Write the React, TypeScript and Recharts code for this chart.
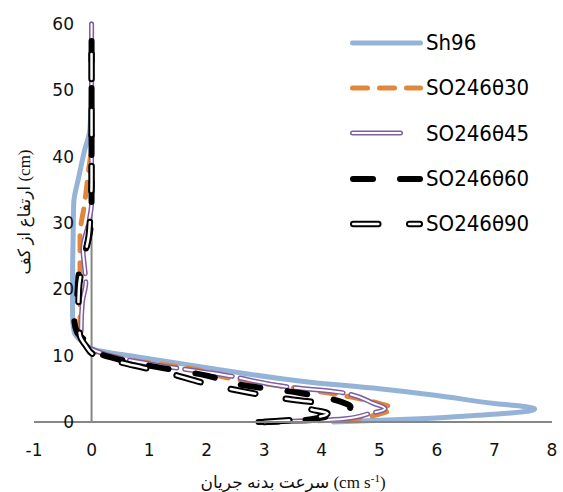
import React from 'react'
import { LineChart, Line, XAxis, YAxis, ReferenceLine, Legend } from 'recharts'

type Pt = { v: number; z: number }
const toPts = (rows: number[][]): Pt[] => rows.map(([v, z]) => ({ v, z }))

const xTicks = [-1, 0, 1, 2, 3, 4, 5, 6, 7, 8]
const yTicks = [0, 10, 20, 30, 40, 50, 60]

// [velocity, height]
const sh96 = toPts([
  [4.2, 0], [5.6, 0.45], [6.7, 1.0], [7.4, 1.45], [7.7, 1.95], [7.45, 2.4], [7.0, 2.8], [6.0, 4.0],
  [5.0, 5.0], [3.8, 6.0], [2.0, 8.2], [0.8, 9.8], [0.05, 10.9], [-0.15, 12], [-0.3, 13.5],
  [-0.33, 16], [-0.33, 22], [-0.32, 28], [-0.31, 33], [-0.22, 37], [-0.12, 41], [-0.03, 44],
  [0, 50], [0, 60],
])
const so30 = toPts([
  [3.0, 0], [3.8, 0.15], [4.5, 0.45], [5.0, 1.2], [5.22, 2.1], [5.0, 2.8], [4.6, 3.6], [3.8, 4.8],
  [3.3, 5.4], [2.4, 6.6], [1.7, 8.1], [0.7, 9.3], [0.1, 10.5], [-0.1, 11.5], [-0.17, 13],
  [-0.2, 16], [-0.2, 22], [-0.2, 28], [-0.12, 33], [-0.05, 38], [0, 42], [0, 50], [0, 60],
])
const so45 = toPts([
  [3.0, 0], [3.8, 0.2], [4.4, 0.5], [4.8, 1.2], [5.1, 2.0], [4.9, 2.8], [4.3, 4.5], [3.5, 5.2],
  [2.3, 7.1], [1.2, 8.5], [0.4, 9.8], [0.05, 10.8], [-0.15, 12], [-0.18, 14], [-0.16, 18],
  [-0.1, 21], [-0.13, 24], [-0.15, 26], [-0.05, 30], [0, 33], [0, 45], [0, 60],
])
const so60 = toPts([
  [2.9, 0], [3.5, 0.15], [3.95, 0.6], [4.35, 1.4], [4.5, 2.3], [4.35, 3.0], [3.6, 4.4], [2.6, 5.6],
  [2.0, 7.0], [1.0, 8.5], [0.4, 9.6], [0.05, 10.6], [-0.1, 12.2], [-0.25, 13.5], [-0.3, 15.5],
  [-0.25, 19], [-0.22, 22.5], [-0.1, 26], [-0.02, 29], [0, 32], [0, 45], [0, 60],
])
const so90 = toPts([
  [3.0, 0], [3.5, 0.3], [3.9, 0.7], [4.1, 1.3], [3.8, 2.0], [4.05, 2.6], [3.3, 3.6], [2.4, 5.0],
  [1.9, 6.0], [1.4, 7.2], [0.9, 8.2], [0.5, 9.0], [0.05, 10.1], [-0.1, 11.5], [-0.2, 13],
  [-0.23, 16], [-0.22, 20], [-0.15, 24], [-0.05, 28], [-0.02, 32], [0, 36], [0, 60],
])

const seriesNames = ['Sh96', 'SO246θ30', 'SO246θ45', 'SO246θ60', 'SO246θ90']
const seriesData = [sh96, so30, so45, so60, so90]

const styles = [
  { color: '#95b3d7', width: 5, dash: undefined, inner: 0 },
  { color: '#e0873a', width: 5, dash: '15 12', inner: 0 },
  { color: '#7f5fa0', width: 5, dash: '48 8', inner: 2 },
  { color: '#000000', width: 6, dash: '20 27', inner: 0 },
  { color: '#000000', width: 6.5, dash: '25 31', inner: 2.5 },
]

const tickFont = '"DejaVu Sans", sans-serif'
const legendFont = '"Liberation Sans Narrow", "DejaVu Sans Condensed", "Liberation Sans", sans-serif'

const YTick = (props: any) => {
  const { x, y, payload } = props
  return (
    <text x={x + 48} y={y} dy={6} textAnchor="end" fontSize={17} fontFamily={tickFont} fill="#111">
      {payload.value}
    </text>
  )
}

const XTitle = (props: any) => {
  const vb = props.viewBox
  return (
    <text x={vb.x + vb.width / 2} y={vb.y + 66} textAnchor="middle" fontSize={17}
      fontFamily='"Liberation Serif", "DejaVu Sans", serif' fill="#111">
      سرعت بدنه جریان (cm s<tspan dy={-6} fontSize={11}>-1</tspan><tspan dy={6}>)</tspan>
    </text>
  )
}

const YTitle = (props: any) => {
  const vb = props.viewBox
  const cx = vb.x + 24
  const cy = vb.y + vb.height / 2 - 11
  return (
    <text x={cx} y={cy} transform={`rotate(-90 ${cx} ${cy})`} textAnchor="middle" dy={6} fontSize={17}
      fontFamily='"Liberation Serif", "DejaVu Sans", serif' fill="#111">
      ارتفاع از کف (cm)
    </text>
  )
}

const LegendSample = ({ i }: { i: number }) => {
  const s = styles[i]
  const x1 = 2 + s.width / 2
  const x2 = i === 2 ? 55 - s.width / 2 : 75 - s.width / 2
  return (
    <svg width={78} height={12} style={{ display: 'block' }}>
      <line x1={x1} x2={x2} y1={6} y2={6} stroke={s.color} strokeWidth={s.width}
        strokeDasharray={s.dash} strokeLinecap="round" />
      {s.inner > 0 && (
        <line x1={x1} x2={x2} y1={6} y2={6} stroke="#fff" strokeWidth={s.inner}
          strokeDasharray={s.dash} strokeLinecap="round" />
      )}
    </svg>
  )
}

const renderLegend = () => (
  <div>
    {seriesNames.map((n, i) => (
      <div key={n} style={{ display: 'flex', alignItems: 'center', height: 45.3 }}>
        <LegendSample i={i} />
        <span style={{ fontFamily: legendFont, fontSize: 22, color: '#000', marginLeft: 0 }}>{n}</span>
      </div>
    ))}
  </div>
)

export default function App() {
  return (
    <div style={{ position: 'absolute', left: 0, top: 0, background: '#fff' }}>
      <LineChart width={563} height={492} margin={{ top: 24, right: 11, bottom: 0, left: 0 }}>
        <XAxis type="number" dataKey="v" domain={[-1, 8]} ticks={xTicks} interval={0}
          tickLine={false} axisLine={{ stroke: '#868686', strokeWidth: 2 }}
          tick={{ fontSize: 17, fill: '#111', fontFamily: tickFont }} tickMargin={16}
          height={70} label={XTitle} />
        <YAxis type="number" domain={[0, 60]} ticks={yTicks} interval={0} width={34}
          axisLine={false} tickLine={false} tick={YTick} label={YTitle} />
        <ReferenceLine x={0} stroke="#868686" strokeWidth={2} />
        {seriesData.map((d, i) => {
          const s = styles[i]
          return [
            <Line key={'a' + i} data={d} dataKey="z" type="monotoneY" stroke={s.color}
              strokeWidth={s.width} strokeDasharray={s.dash} strokeLinecap="round"
              strokeLinejoin="round" dot={false} activeDot={false} legendType="none"
              isAnimationActive={false} />,
            s.inner > 0 ? (
              <Line key={'b' + i} data={d} dataKey="z" type="monotoneY" stroke="#fff"
                strokeWidth={s.inner} strokeDasharray={s.dash} strokeLinecap="round"
                strokeLinejoin="round" dot={false} activeDot={false} legendType="none"
                isAnimationActive={false} />
            ) : null,
          ]
        })}
        <Legend content={renderLegend} layout="horizontal" verticalAlign="middle" align="center"
          wrapperStyle={{ top: 20, left: 348, width: 210 }} />
      </LineChart>
    </div>
  )
}
